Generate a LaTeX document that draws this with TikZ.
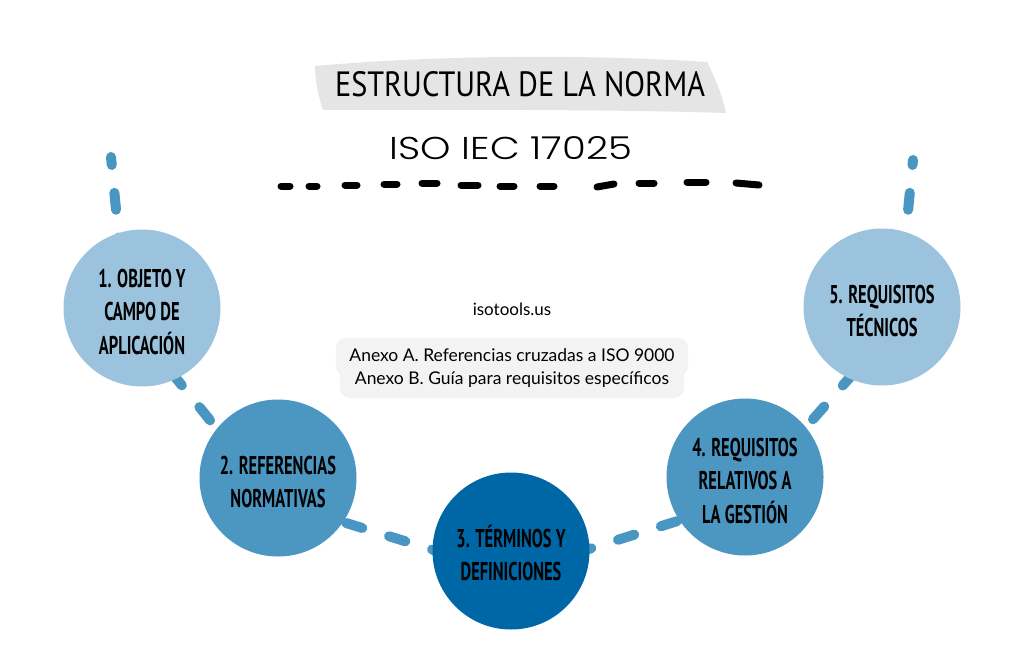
\documentclass[tikz,border=0pt]{standalone}
\usepackage{fontspec}
\usepackage{graphicx}
\setmainfont{Lato}
\newfontfamily\condfont[FakeStretch=0.75]{PT Sans}
\newfontfamily\circfont[FakeStretch=0.64]{PT Sans Bold}
\newfontfamily\titlefont{Poppins Light}
\newcommand\firststrut{\rule{0pt}{26pt}}
\definecolor{lightblue}{HTML}{9CC3DD}
\definecolor{midblue}{HTML}{4C96C2}
\definecolor{darkblue}{HTML}{0067A6}
\definecolor{dashblue}{HTML}{4A96C3}
\definecolor{bannergray}{HTML}{E5E5E5}
\definecolor{annexgray}{HTML}{F3F3F3}
\tikzset{
  conn/.style={draw=dashblue, line width=10pt, line cap=round, dash pattern=on 17pt off 28pt},
  blackdash/.style={draw=black, line width=7pt, line cap=round},
  circ/.style={circle, minimum size=157pt, inner sep=0pt, align=center,
    font=\circfont\fontsize{25.7}{33.5}\selectfont, text=black},
  annex/.style={fill=annexgray, rounded corners=10pt, text height=12.5pt, text depth=4pt,
    font=\fontsize{17.5}{21}\selectfont, inner ysep=0pt}
}
\begin{document}
\begin{tikzpicture}[x=1pt, y=-1pt]
\useasboundingbox (0,0) rectangle (1024,671);
\fill[white] (0,0) rectangle (1024,671);

% banner
\fill[bannergray] (315,66) .. controls (450,54) and (600,55) .. (707,62)
  .. controls (716,80) and (722,95) .. (726,113)
  .. controls (600,109) and (450,110) .. (323,110)
  .. controls (318,95) and (315,80) .. (315,66) -- cycle;
\node[inner sep=0pt] (title) at (520,84.5) {\resizebox{370pt}{25pt}{\condfont ESTRUCTURA DE LA NORMA}};
\node[inner sep=0pt] (iso) at (511,148.5) {\resizebox{242pt}{23pt}{\titlefont ISO IEC 17025}};

% black hand-drawn dashes
\foreach \a/\ya/\b/\yb in {281/186/290/186, 309/186/317/186, 345/185/357/185, 384/184/397/184,
  422/183/437/183, 461/185/478/185, 500/186/514/186, 540/186/554/186, 597/187/614/184,
  639/183/654/183, 687/182/706/182, 736/183/759/185}
  \draw[blackdash] (\a,\ya) -- (\b,\yb);

% connector end points
\coordinate (s01) at (111,157);  \coordinate (e01) at (121,262);
\coordinate (s12) at (146,341);  \coordinate (e12) at (247,466);
\coordinate (s23) at (304,510);  \coordinate (e23) at (466,560);
\coordinate (s34) at (535,566);  \coordinate (e34) at (725,506);
\coordinate (s45) at (770,468);  \coordinate (e45) at (889,333);
\coordinate (s56) at (913,160);  \coordinate (e56) at (903,262);

\draw[conn, dash phase=9pt]  (s01) -- (e01);
\draw[conn, dash phase=5pt]  (s12) -- (e12);
\draw[conn, dash phase=1pt]  (s23) -- (e23);
\draw[conn, dash phase=3pt]  (s34) -- (e34);
\draw[conn, dash phase=25pt] (s45) -- (e45);
\draw[conn, dash phase=12pt] (s56) -- (e56);

% circles
\node[circ, fill=lightblue] (c1) at (142,308) {\firststrut 1. OBJETO Y\\CAMPO DE\\APLICACIÓN};
\node[circ, fill=midblue]   (c2) at (278,478) {\firststrut 2. REFERENCIAS\\NORMATIVAS};
\node[circ, fill=darkblue]  (c3) at (511,551) {\firststrut 3. TÉRMINOS Y\\DEFINICIONES};
\node[circ, fill=midblue]   (c4) at (745,477) {\firststrut 4. REQUISITOS\\RELATIVOS A\\LA GESTIÓN};
\node[circ, fill=lightblue] (c5) at (882,307) {\firststrut 5. REQUISITOS\\TÉCNICOS};

% center texts
\node[font=\fontsize{17}{20}\selectfont, inner sep=0pt] (site) at (512,309) {isotools.us};
\node[annex, minimum height=38pt, inner xsep=13.5pt] (anexA) at (512,357) {Anexo A. Referencias cruzadas a ISO 9000};
\node[annex, minimum height=36pt, inner xsep=15pt] (anexB) at (512,380) {Anexo B. Guía para requisitos específicos};
\end{tikzpicture}
\end{document}
